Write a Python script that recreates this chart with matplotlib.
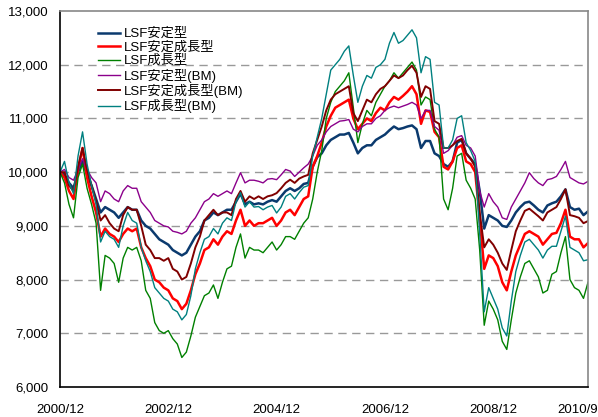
import numpy as np
from matplotlib import pyplot as plt
from matplotlib.transforms import ScaledTranslation

plt.rcParams['font.family'] = ['Liberation Sans', 'Noto Sans CJK JP', 'DejaVu Sans']

# monthly values, 2000/12 .. 2010/9
lsf_stable = [
    10000, 9950, 9800, 9700, 10000, 10200, 9950, 9750, 9500, 9250, 9350, 9300,
    9250, 9150, 9250, 9350, 9300, 9300, 9100, 9000, 8950, 8850, 8750, 8700,
    8650, 8550, 8500, 8450, 8500, 8650, 8800, 8900, 9100, 9150, 9250, 9200,
    9250, 9300, 9300, 9450, 9600, 9400, 9450, 9400, 9420, 9400, 9450, 9480,
    9450, 9550, 9650, 9700, 9650, 9700, 9780, 9800, 10100, 10280, 10350, 10500,
    10600, 10650, 10700, 10700, 10730, 10550, 10350, 10450, 10500, 10500, 10600, 10650,
    10700, 10780, 10850, 10800, 10820, 10850, 10870, 10800, 10450, 10580, 10580, 10350,
    10300, 10150, 10100, 10200, 10550, 10600, 10350, 10250, 10150, 9650, 8950, 9200,
    9150, 9100, 9000, 8980, 9100, 9250, 9350, 9430, 9450, 9380, 9300, 9250,
    9380, 9420, 9450, 9550, 9680, 9350, 9300, 9320, 9200, 9270]
lsf_stable_growth = [
    10000, 9900, 9650, 9500, 10050, 10450, 9900, 9550, 9250, 8800, 8950, 8850,
    8800, 8700, 8850, 8950, 8900, 8950, 8600, 8400, 8250, 8000, 7950, 7850,
    7800, 7650, 7600, 7450, 7550, 7800, 8100, 8300, 8550, 8600, 8750, 8650,
    8800, 8900, 8850, 9100, 9300, 9000, 9100, 9000, 9050, 9050, 9100, 9150,
    9000, 9100, 9250, 9300, 9200, 9350, 9500, 9550, 10100, 10300, 10550, 10850,
    11050, 11200, 11250, 11300, 11350, 11000, 10800, 10900, 11000, 10950, 11100, 11200,
    11150, 11300, 11400, 11350, 11420, 11500, 11600, 11450, 10900, 11150, 11120, 10750,
    10650, 10100, 10050, 10200, 10450, 10500, 10200, 10150, 10000, 9150, 8200, 8450,
    8400, 8250, 7950, 7800, 8150, 8450, 8650, 8850, 8900, 8850, 8800, 8650,
    8750, 8850, 8870, 9050, 9300, 8800, 8750, 8750, 8600, 8680]
lsf_growth = [
    10000, 9800, 9400, 9150, 9900, 10150, 9700, 9400, 9050, 7800, 8450, 8400,
    8300, 7950, 8400, 8600, 8550, 8600, 8350, 7800, 7650, 7200, 7050, 7000,
    7050, 6900, 6800, 6550, 6650, 6950, 7300, 7500, 7700, 7750, 7900, 7650,
    7950, 8200, 8250, 8600, 8850, 8400, 8600, 8550, 8550, 8500, 8600, 8700,
    8550, 8650, 8800, 8800, 8750, 8900, 9050, 9150, 9500, 10000, 10400, 11000,
    11300, 11500, 11600, 11700, 11850, 11200, 10550, 10900, 11150, 11050, 11300, 11450,
    11600, 11700, 11850, 11750, 11850, 11950, 12050, 11900, 11250, 11400, 11350, 10800,
    10650, 9500, 9300, 9700, 10300, 10350, 9850, 9700, 9500, 8550, 7150, 7600,
    7450, 7250, 6850, 6700, 7250, 7750, 8050, 8300, 8350, 8200, 8050, 7750,
    7800, 8100, 8150, 8500, 8800, 8000, 7850, 7800, 7650, 7950]
lsf_stable_bm = [
    10000, 10050, 9900, 9850, 10050, 10250, 10050, 9900, 9800, 9450, 9650, 9600,
    9500, 9450, 9650, 9750, 9700, 9700, 9450, 9350, 9250, 9100, 9050, 9000,
    8980, 8900, 8880, 8850, 8900, 9050, 9150, 9300, 9450, 9500, 9600, 9550,
    9600, 9650, 9600, 9800, 9990, 9800, 9850, 9850, 9830, 9800, 9870, 9880,
    9860, 9950, 10050, 10020, 9920, 10000, 10080, 10150, 10300, 10500, 10600, 10750,
    10850, 10900, 10950, 10960, 10980, 10800, 10750, 10850, 10900, 10900, 11000, 11050,
    11150, 11200, 11230, 11200, 11230, 11260, 11300, 11250, 11000, 11150, 11150, 10850,
    10780, 10350, 10400, 10500, 10650, 10680, 10500, 10450, 10300, 9650, 9350, 9600,
    9450, 9350, 9150, 9120, 9350, 9500, 9650, 9800, 9990, 9880, 9800, 9750,
    9860, 9880, 9920, 10050, 10200, 9900, 9850, 9800, 9780, 9830]
lsf_stable_growth_bm = [
    10000, 10000, 9750, 9650, 10100, 10450, 10050, 9750, 9450, 9100, 9200, 9050,
    8950, 8900, 9200, 9350, 9300, 9300, 9000, 8650, 8550, 8400, 8400, 8350,
    8400, 8200, 8150, 8000, 8050, 8300, 8600, 8800, 9100, 9200, 9300, 9200,
    9250, 9250, 9200, 9500, 9650, 9450, 9550, 9500, 9550, 9500, 9550, 9570,
    9610, 9700, 9800, 9860, 9800, 9880, 9920, 9950, 10350, 10600, 10850, 11150,
    11350, 11450, 11500, 11550, 11600, 11100, 10950, 11150, 11350, 11300, 11450, 11550,
    11600, 11700, 11800, 11750, 11800, 11900, 11980, 11850, 11400, 11600, 11550, 10950,
    10900, 10450, 10450, 10500, 10580, 10620, 10350, 10250, 10100, 9250, 8600, 8750,
    8650, 8500, 8300, 8180, 8550, 8900, 9100, 9280, 9320, 9250, 9180, 9100,
    9250, 9300, 9350, 9500, 9680, 9200, 9180, 9150, 9050, 9090]
lsf_growth_bm = [
    10000, 10200, 9800, 9600, 10300, 10750, 10150, 9750, 9400, 8700, 8900, 8800,
    8750, 8600, 9000, 9250, 9100, 9050, 8600, 8350, 8150, 7850, 7750, 7650,
    7600, 7450, 7400, 7250, 7350, 7700, 8200, 8500, 8750, 8800, 8950, 8850,
    9050, 9150, 9100, 9450, 9620, 9350, 9450, 9350, 9360, 9300, 9350, 9380,
    9240, 9350, 9550, 9600, 9500, 9620, 9720, 9750, 10300, 10650, 11000, 11450,
    11900, 12000, 12100, 12250, 12350, 11800, 11300, 11600, 11800, 11750, 11950, 12000,
    12100, 12400, 12600, 12400, 12450, 12550, 12650, 12500, 11850, 12150, 12100, 11300,
    11250, 10450, 10450, 10600, 11000, 11050, 10550, 10400, 10200, 8850, 7400, 7850,
    7650, 7450, 7100, 6950, 7600, 8150, 8450, 8700, 8750, 8650, 8550, 8400,
    8550, 8620, 8620, 8900, 9180, 8600, 8550, 8500, 8350, 8370]

series_names = ['LSF安定型', 'LSF安定成長型', 'LSF成長型',
                'LSF安定型(BM)', 'LSF安定成長型(BM)', 'LSF成長型(BM)']
tick_months = [0, 24, 48, 72, 96, 117]
tick_labels = ['2000/12', '2002/12', '2004/12', '2006/12', '2008/12', '2010/9']


def main():
    fig = plt.figure(figsize=(5.98, 4.17), dpi=100)
    ax = fig.add_axes([0.1003, 0.0719, 0.8830, 0.9017])

    months = np.arange(len(lsf_stable))
    data = [lsf_stable, lsf_stable_growth, lsf_growth,
            lsf_stable_bm, lsf_stable_growth_bm, lsf_growth_bm]
    colors = ['#0b3a6e', '#ff0000', '#008000', '#8b008b', '#800000', '#008080']
    widths = [1.8, 1.8, 1.0, 1.0, 1.4, 1.0]
    for vals, name, c, w in zip(data, series_names, colors, widths):
        ax.plot(months, vals, color=c, lw=w, label=name)

    ax.set_xlim(0, 117)
    ax.set_ylim(6000, 13000)
    ax.set_yticks(np.arange(6000, 13001, 1000))
    ax.yaxis.set_major_formatter(plt.FuncFormatter(lambda v, p: f'{int(v):,}'))
    ax.set_xticks(tick_months)
    ax.set_xticklabels(tick_labels)
    ax.tick_params(axis='both', length=0, labelsize=9.5, colors='black')
    ax.tick_params(axis='x', pad=12)
    ax.tick_params(axis='y', pad=8)
    # last label sits left of its tick in the original
    lab = ax.get_xticklabels()[-1]
    lab.set_transform(lab.get_transform() + ScaledTranslation(-0.1, 0, fig.dpi_scale_trans))

    for y in range(7000, 13000, 1000):
        ax.axhline(y, color='#999999', lw=1.0, ls=(0, (6, 4)), zorder=0)

    for s in ['left', 'bottom']:
        ax.spines[s].set_color('black')
        ax.spines[s].set_linewidth(1.2)
    for s in ['top', 'right']:
        ax.spines[s].set_color('#888888')
        ax.spines[s].set_linewidth(1.2)

    ax.legend(loc='upper left', bbox_to_anchor=(0.072, 0.955), frameon=False,
              fontsize=9.5, handlelength=1.7, handletextpad=0.25, labelspacing=0.1,
              borderaxespad=0, borderpad=0)

    fig.savefig('out.png', dpi=100)


if __name__ == '__main__':
    main()
